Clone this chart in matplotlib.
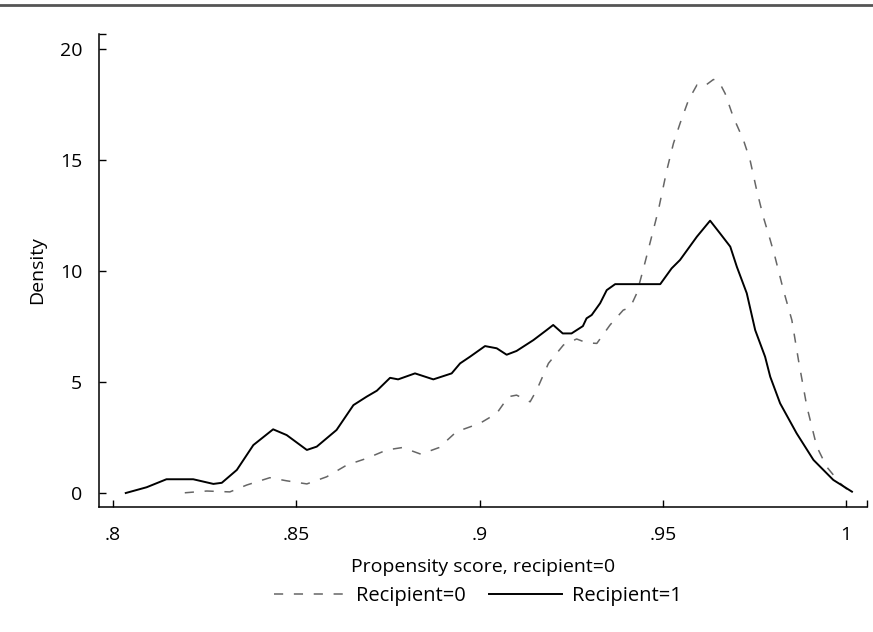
import matplotlib
matplotlib.use("Agg")
import matplotlib.pyplot as plt
from matplotlib.lines import Line2D

plt.rcParams['font.family'] = ['Open Sans', 'DejaVu Sans']

# Recipient=0 density (dashed)
score_r0 = [0.8196, 0.8256, 0.8319, 0.8365, 0.8428, 0.8474, 0.8529, 0.8583, 0.8638, 0.8692,
            0.8747, 0.8790, 0.8840, 0.8890, 0.8937, 0.9001, 0.9047, 0.9079, 0.9101, 0.9138,
            0.9156, 0.9188, 0.9229, 0.9265, 0.9292, 0.9320, 0.9356, 0.9392, 0.9411, 0.9429,
            0.9447, 0.9461, 0.9488, 0.9511, 0.9529, 0.9547, 0.9570, 0.9593, 0.9611, 0.9638,
            0.9652, 0.9670, 0.9692, 0.9720, 0.9738, 0.9756, 0.9774, 0.9793, 0.9806, 0.9829,
            0.9852, 0.9870, 0.9893, 0.9920, 0.9947, 0.9984, 1.0010]
dens_r0 = [0.01, 0.09, 0.05, 0.36, 0.69, 0.55, 0.41, 0.73, 1.26, 1.56,
           1.94, 2.05, 1.75, 2.05, 2.76, 3.14, 3.59, 4.34, 4.41, 4.11,
           4.64, 5.84, 6.67, 6.94, 6.77, 6.74, 7.57, 8.24, 8.36, 9.00,
           10.10, 11.00, 12.75, 14.55, 15.75, 16.65, 17.70, 18.38, 18.30, 18.63,
           18.57, 18.00, 16.95, 15.90, 15.00, 13.65, 12.45, 11.40, 10.64, 9.14,
           7.79, 5.99, 3.89, 2.09, 1.18, 0.44, 0.05]

# Recipient=1 density (solid)
score_r1 = [0.8035, 0.8092, 0.8146, 0.8219, 0.8274, 0.8297, 0.8338, 0.8383, 0.8437, 0.8474,
            0.8529, 0.8556, 0.8610, 0.8656, 0.8692, 0.8720, 0.8756, 0.8778, 0.8824, 0.8874,
            0.8924, 0.8947, 0.8974, 0.9015, 0.9047, 0.9074, 0.9101, 0.9147, 0.9183, 0.9201,
            0.9227, 0.9251, 0.9282, 0.9292, 0.9306, 0.9329, 0.9347, 0.9370, 0.9493, 0.9524,
            0.9547, 0.9593, 0.9629, 0.9656, 0.9684, 0.9702, 0.9729, 0.9752, 0.9779, 0.9793,
            0.9820, 0.9865, 0.9911, 0.9965, 1.0016]
dens_r1 = [0.00, 0.26, 0.62, 0.62, 0.41, 0.46, 1.04, 2.16, 2.87, 2.61,
           1.94, 2.09, 2.84, 3.96, 4.34, 4.61, 5.19, 5.12, 5.39, 5.12,
           5.39, 5.84, 6.14, 6.62, 6.52, 6.23, 6.40, 6.89, 7.34, 7.57,
           7.19, 7.19, 7.52, 7.87, 8.02, 8.55, 9.14, 9.41, 9.41, 10.12,
           10.50, 11.55, 12.27, 11.70, 11.10, 10.19, 9.00, 7.34, 6.14, 5.24,
           4.04, 2.69, 1.49, 0.59, 0.06]

x_ticks = [0.8, 0.85, 0.9, 0.95, 1.0]
x_tick_labels = ['.8', '.85', '.9', '.95', '1']
y_ticks = [0, 5, 10, 15, 20]

fig = plt.figure(figsize=(8.73, 6.32), dpi=100)
ax = fig.add_axes([99 / 873, 1 - 507 / 632, 768 / 873, 473 / 632])

ax.plot(score_r0, dens_r0, color='#666666', lw=1.1, dashes=(6, 7),
        solid_joinstyle='round', label='Recipient=0')
ax.plot(score_r1, dens_r1, color='black', lw=1.4, solid_joinstyle='round',
        label='Recipient=1')

ax.set_xlim(0.7962, 1.0057)
ax.set_ylim(-0.63, 20.68)
ax.set_xticks(x_ticks)
ax.set_xticklabels(x_tick_labels)
ax.set_yticks(y_ticks)
# small marks at the far ends of the axes
ax.set_xticks([1.0057], minor=True)
ax.set_yticks([20.68], minor=True)
ax.tick_params(which='both', direction='in', length=5, width=1, labelsize=14)
ax.tick_params(axis='y', pad=12)
ax.tick_params(axis='x', pad=14)

for s in ['top', 'right']:
    ax.spines[s].set_visible(False)
for s in ['left', 'bottom']:
    ax.spines[s].set_linewidth(1.1)

ax.set_xlabel('Propensity score, recipient=0', fontsize=14, labelpad=10)
ax.set_ylabel('Density', fontsize=14, labelpad=10)

fig.legend(loc='center', bbox_to_anchor=(0.547, 1 - 596 / 632), ncol=2, frameon=False,
           fontsize=14.5, handlelength=3.6, handletextpad=0.5, columnspacing=1.15)

# grey rule along the top of the figure
fig.add_artist(Line2D([0, 1], [1 - 5 / 632, 1 - 5 / 632], color='#555555', lw=2,
                      transform=fig.transFigure))

fig.savefig('out.png', dpi=100)
